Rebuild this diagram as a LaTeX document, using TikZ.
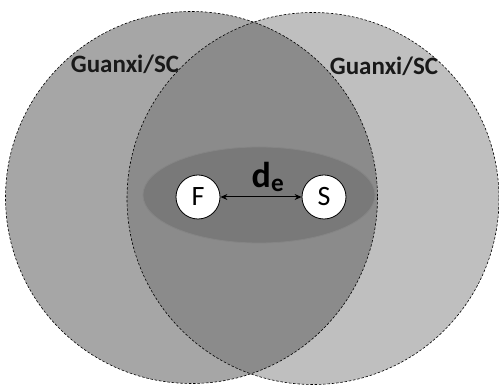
\documentclass[tikz,border=0pt]{standalone}
\usepackage{fontspec}
\setmainfont{Carlito}
\usetikzlibrary{arrows.meta}
\definecolor{leftgray}{HTML}{A6A6A6}
\definecolor{rightgray}{HTML}{BFBFBF}
\definecolor{overlapgray}{HTML}{8B8B8B}
\definecolor{coregray}{HTML}{797979}
\definecolor{coreedge}{HTML}{858585}
\tikzset{
  zone/.style={draw=black, dashed, dash pattern=on 2.5pt off 1.8pt, line width=0.6pt},
  party/.style={circle, draw=black, fill=white, line width=0.8pt, minimum size=44pt, inner sep=0pt, font=\fontsize{28}{28}\selectfont},
  zonelabel/.style={font=\fontsize{25}{25}\selectfont\bfseries, text=black!90}
}
\begin{document}
\begin{tikzpicture}[x=1pt, y=-1pt]
  \useasboundingbox (0,0) rectangle (499,387);
  % two overlapping networks
  \coordinate (lc) at (191.5,197.5);
  \coordinate (rc) at (313,198.5);
  \fill[leftgray] (lc) circle (186);
  \fill[rightgray] (rc) circle (186);
  \begin{scope}
    \clip (lc) circle (186);
    \fill[overlapgray] (rc) circle (186);
  \end{scope}
  % shared core
  \fill[coregray, draw=coreedge, line width=0.8pt] (259,195) ellipse (116 and 48);
  % dashed outlines
  \draw[zone] (lc) circle (186);
  \draw[zone] (rc) circle (186);
  % labels
  \node[zonelabel] (gl) at (125,64) {Guanxi/SC};
  \node[zonelabel] (gr) at (384,66) {Guanxi/SC};
  % parties and distance
  \node[party] (F) at (198,197) {F};
  \node[party] (S) at (324,197) {S};
  \draw[{Stealth[length=7pt,width=6pt]}-{Stealth[length=7pt,width=6pt]}, line width=1pt] (F) -- (S);
  \node[font=\fontsize{36}{36}\selectfont\bfseries] (de) at (268,177) {d\textsubscript{e}};
\end{tikzpicture}
\end{document}
